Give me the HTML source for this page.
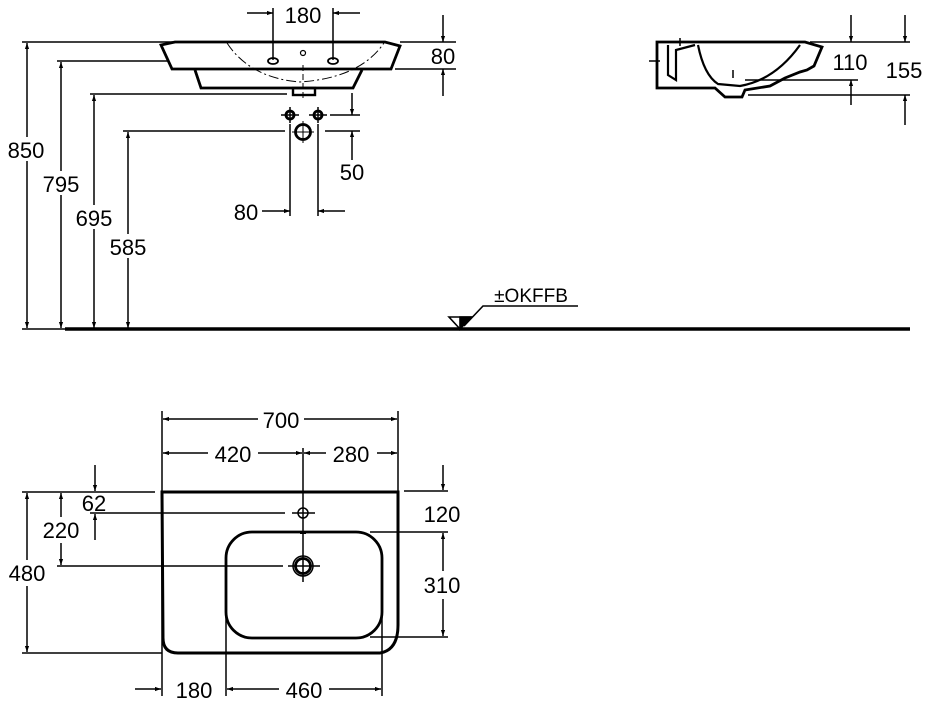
<!DOCTYPE html>
<html><head><style>
html,body{margin:0;padding:0;background:#fff;}
svg{display:block;}
text{font-family:"Liberation Sans",Arial,sans-serif;font-size:22px;fill:#000;text-anchor:middle;}
</style></head><body>
<svg width="928" height="721" viewBox="0 0 928 721" xmlns="http://www.w3.org/2000/svg">
<defs>
<marker id="a" viewBox="0 0 10 10" refX="10" refY="5" markerWidth="10" markerHeight="6" markerUnits="userSpaceOnUse" orient="auto-start-reverse"><path d="M0,1.5 L10,5 L0,8.5z" fill="#000"/></marker>
</defs>
<g stroke="#000" stroke-width="1.5" fill="none">
<line x1="22" y1="42" x2="175" y2="42"/>
<line x1="57" y1="61" x2="168" y2="61"/>
<line x1="90" y1="94" x2="287" y2="94"/>
<line x1="123" y1="131" x2="285" y2="131"/>
<line x1="27" y1="43" x2="27" y2="328" marker-start="url(#a)" marker-end="url(#a)"/>
<line x1="61" y1="62" x2="61" y2="328" marker-start="url(#a)" marker-end="url(#a)"/>
<line x1="94" y1="95" x2="94" y2="328" marker-start="url(#a)" marker-end="url(#a)"/>
<line x1="128" y1="132" x2="128" y2="328" marker-start="url(#a)" marker-end="url(#a)"/>
<line x1="22" y1="329" x2="65" y2="329"/>
<line x1="65" y1="329" x2="910" y2="329" stroke-width="3.5"/>
</g>
<g fill="#fff">
<rect x="4" y="137" width="44" height="24"/><rect x="40" y="171" width="44" height="24"/>
<rect x="72" y="205" width="44" height="24"/><rect x="106" y="234" width="44" height="24"/>
</g>
<text x="26" y="158">850</text><text x="61" y="192">795</text>
<text x="94" y="226">695</text><text x="128" y="255">585</text>

<g stroke="#000" fill="none">
<path d="M175,42 L385,42 L400,46 L391,69 L172,69 L161,45 Z" stroke-width="2.8"/>
<path d="M195,70 L201,88 L353,88 L362,70" stroke-width="2.8"/>
<rect x="293" y="88" width="22" height="7" stroke-width="2.4"/>
<path d="M227,43 Q250,78 300,82 Q360,78 384,43" stroke-width="1" stroke-dasharray="10,3,2,3"/>
<ellipse cx="273" cy="61" rx="5" ry="3" stroke-width="1.8"/>
<ellipse cx="333" cy="61" rx="5" ry="3" stroke-width="1.8"/>
<circle cx="303" cy="53" r="2.5" stroke-width="1.2"/>
<line x1="303" y1="65" x2="303" y2="98" stroke-width="1" stroke-dasharray="6,3"/>
<line x1="273" y1="8" x2="273" y2="60" stroke-width="1.5"/>
<line x1="333" y1="8" x2="333" y2="60" stroke-width="1.5"/>
<line x1="247" y1="13" x2="273" y2="13" stroke-width="1.5" marker-end="url(#a)"/>
<line x1="360" y1="13" x2="333" y2="13" stroke-width="1.5" marker-end="url(#a)"/>
<line x1="400" y1="42" x2="456" y2="42" stroke-width="1.5"/>
<line x1="395" y1="69" x2="456" y2="69" stroke-width="1.5"/>
<line x1="443" y1="15" x2="443" y2="42" stroke-width="1.5" marker-end="url(#a)"/>
<line x1="443" y1="96" x2="443" y2="69" stroke-width="1.5" marker-end="url(#a)"/>
<circle cx="290" cy="115" r="4" stroke-width="2.8"/><circle cx="318" cy="115" r="4" stroke-width="2.8"/>
<line x1="281" y1="115" x2="299" y2="115" stroke-width="1.5"/><line x1="309" y1="115" x2="327" y2="115" stroke-width="1.5"/>
<line x1="290" y1="107" x2="290" y2="123" stroke-width="1.5"/><line x1="318" y1="107" x2="318" y2="123" stroke-width="1.5"/>
<circle cx="303" cy="132" r="7.5" stroke-width="2.8"/>
<line x1="292" y1="132" x2="314" y2="132" stroke-width="1"/><line x1="303" y1="121" x2="303" y2="143" stroke-width="1"/>
<line x1="290" y1="124" x2="290" y2="216" stroke-width="1.5"/>
<line x1="318" y1="124" x2="318" y2="216" stroke-width="1.5"/>
<line x1="330" y1="115" x2="360" y2="115" stroke-width="1.5"/>
<line x1="325" y1="131" x2="360" y2="131" stroke-width="1.5"/>
<line x1="352" y1="93" x2="352" y2="115" stroke-width="1.5" marker-end="url(#a)"/>
<line x1="352" y1="160" x2="352" y2="131" stroke-width="1.5" marker-end="url(#a)"/>
<line x1="262" y1="211" x2="290" y2="211" stroke-width="1.5" marker-end="url(#a)"/>
<line x1="345" y1="211" x2="318" y2="211" stroke-width="1.5" marker-end="url(#a)"/>
</g>
<text x="303" y="23">180</text><text x="443" y="64">80</text>
<text x="352" y="180">50</text><text x="246" y="220">80</text>

<g stroke="#000" fill="none">
<path d="M657,42 L805,42 L822,47 L814,66 L807,70 L800,72 L785,78 L770,86 L745,90 L742,97 L725,97 L715,88 L657,88 Z" stroke-width="2.8"/>
<path d="M668,45 L668,75 L676,80 L676,50 L695,45 M698,45 Q704,75 718,84 L740,86 Q775,80 800,45" stroke-width="2.2"/>
<line x1="680" y1="38" x2="680" y2="46" stroke-width="1.5"/>
<line x1="649" y1="61" x2="660" y2="61" stroke-width="1.5"/>
<line x1="733" y1="70" x2="733" y2="78" stroke-width="1.5"/>
<line x1="810" y1="42" x2="910" y2="42" stroke-width="1.5"/>
<line x1="745" y1="80" x2="858" y2="80" stroke-width="1.5"/>
<line x1="748" y1="95" x2="910" y2="95" stroke-width="1.5"/>
<line x1="851" y1="15" x2="851" y2="42" stroke-width="1.5" marker-end="url(#a)"/>
<line x1="851" y1="105" x2="851" y2="80" stroke-width="1.5" marker-end="url(#a)"/>
<line x1="905" y1="15" x2="905" y2="42" stroke-width="1.5" marker-end="url(#a)"/>
<line x1="905" y1="125" x2="905" y2="95" stroke-width="1.5" marker-end="url(#a)"/>
</g>
<text x="850" y="70">110</text><text x="904" y="78">155</text>

<g stroke="#000" fill="none" stroke-width="1.6">
<path d="M449,317 L471,317 L460,329 Z"/>
<path d="M460,317 L471,317 L460,329 Z" fill="#000"/>
<polyline points="464,326 483,306 578,306"/>
</g>
<text x="531" y="302" style="font-size:19px">±OKFFB</text>

<g stroke="#000" fill="none">
<path d="M162,492 L398,492 L398,625 Q398,650 380,653 L178,653 Q163,653 163,638 Z" stroke-width="3"/>
<rect x="226" y="532" width="156" height="106" rx="26" stroke-width="2.8"/>
<circle cx="303" cy="513" r="5" stroke-width="1.5"/>
<line x1="292" y1="513" x2="315" y2="513" stroke-width="1.5"/>
<circle cx="303" cy="566" r="10" stroke-width="1.5"/>
<circle cx="303" cy="566" r="7.5" stroke-width="2.8"/>
<line x1="288" y1="566" x2="320" y2="566" stroke-width="1.5"/>
<line x1="303" y1="448" x2="303" y2="582" stroke-width="1.5"/>
<rect x="300" y="531" width="6" height="3" fill="#000" stroke="none"/>
<line x1="162" y1="411" x2="162" y2="696" stroke-width="1.5"/>
<line x1="398" y1="411" x2="398" y2="491" stroke-width="1.5"/>
<line x1="163" y1="419" x2="258" y2="419" stroke-width="1.5" marker-start="url(#a)"/>
<line x1="304" y1="419" x2="397" y2="419" stroke-width="1.5" marker-end="url(#a)"/>
<line x1="163" y1="453" x2="208" y2="453" stroke-width="1.5" marker-start="url(#a)"/>
<line x1="258" y1="453" x2="302" y2="453" stroke-width="1.5" marker-end="url(#a)"/>
<line x1="304" y1="453" x2="326" y2="453" stroke-width="1.5" marker-start="url(#a)"/>
<line x1="377" y1="453" x2="397" y2="453" stroke-width="1.5" marker-end="url(#a)"/>
<line x1="22" y1="492" x2="155" y2="492" stroke-width="1.5"/>
<line x1="22" y1="653" x2="162" y2="653" stroke-width="1.5"/>
<line x1="57" y1="566" x2="283" y2="566" stroke-width="1.5"/>
<line x1="90" y1="513" x2="285" y2="513" stroke-width="1.5"/>
<line x1="27" y1="493" x2="27" y2="652" stroke-width="1.5" marker-start="url(#a)" marker-end="url(#a)"/>
<line x1="61" y1="493" x2="61" y2="565" stroke-width="1.5" marker-start="url(#a)" marker-end="url(#a)"/>
<line x1="95" y1="465" x2="95" y2="491" stroke-width="1.5" marker-end="url(#a)"/>
<line x1="95" y1="540" x2="95" y2="514" stroke-width="1.5" marker-end="url(#a)"/>
<line x1="404" y1="491" x2="448" y2="491" stroke-width="1.5"/>
<line x1="370" y1="532" x2="448" y2="532" stroke-width="1.5"/>
<line x1="370" y1="637" x2="448" y2="637" stroke-width="1.5"/>
<line x1="443" y1="465" x2="443" y2="490" stroke-width="1.5" marker-end="url(#a)"/>
<line x1="443" y1="533" x2="443" y2="636" stroke-width="1.5" marker-start="url(#a)" marker-end="url(#a)"/>
<line x1="226" y1="600" x2="226" y2="696" stroke-width="1.5"/>
<line x1="382" y1="600" x2="382" y2="696" stroke-width="1.5"/>
<line x1="135" y1="689" x2="161" y2="689" stroke-width="1.5" marker-end="url(#a)"/>
<line x1="227" y1="689" x2="279" y2="689" stroke-width="1.5" marker-start="url(#a)"/>
<line x1="329" y1="689" x2="381" y2="689" stroke-width="1.5" marker-end="url(#a)"/>
</g>
<g fill="#fff">
<rect x="6" y="560" width="44" height="26"/><rect x="40" y="517" width="44" height="26"/>
<rect x="424" y="571" width="40" height="28"/>
</g>
<text x="281" y="428">700</text><text x="233" y="462">420</text><text x="351" y="462">280</text>
<text x="27" y="581">480</text><text x="61" y="538">220</text><text x="94" y="511">62</text>
<text x="442" y="522">120</text><text x="442" y="593">310</text>
<text x="194" y="698">180</text><text x="304" y="698">460</text>
</svg>
</body></html>
